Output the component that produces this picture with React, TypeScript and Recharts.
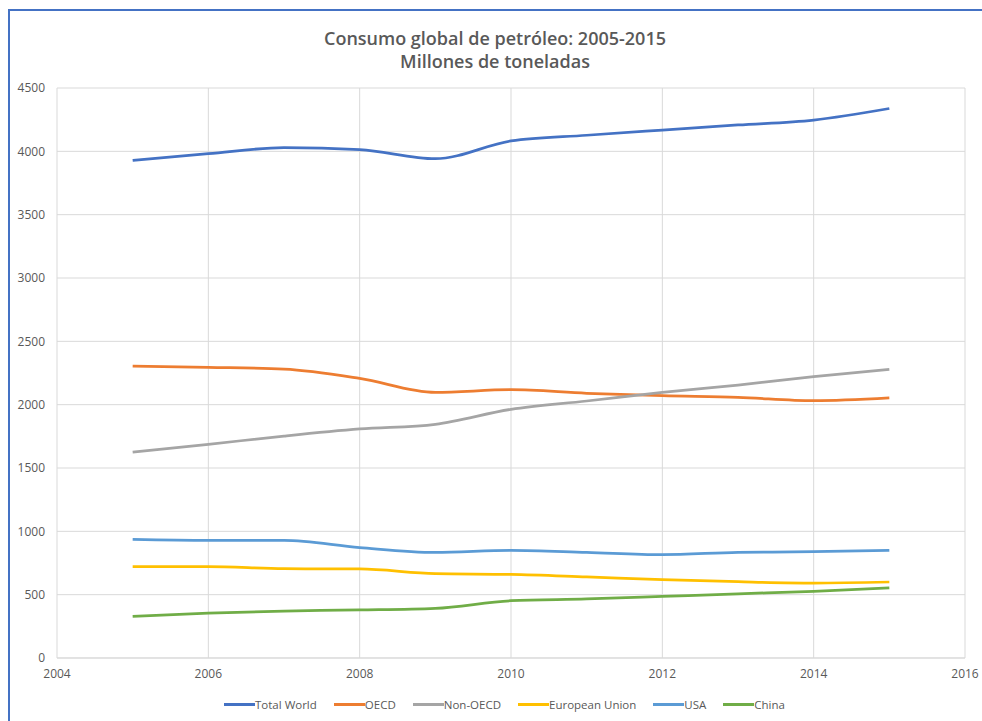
import React from 'react';
import { LineChart, Line, XAxis, YAxis, CartesianGrid } from 'recharts';

const years = [2005, 2006, 2007, 2008, 2009, 2010, 2011, 2012, 2013, 2014, 2015];
const totalWorld = [3928, 3981, 4029, 4014, 3942, 4082, 4127, 4168, 4208, 4247, 4338];
const oecd = [2305, 2295, 2281, 2208, 2097, 2118, 2090, 2071, 2058, 2031, 2053];
const nonOecd = [1626, 1687, 1752, 1808, 1845, 1963, 2029, 2097, 2155, 2222, 2279];
const europeanUnion = [721, 721, 705, 703, 666, 660, 640, 618, 602, 592, 600];
const usa = [937, 929, 929, 872, 833, 850, 834, 816, 834, 839, 850];
const china = [329, 355, 371, 379, 392, 452, 466, 486, 507, 526, 553];

const xTicks = [2004, 2006, 2008, 2010, 2012, 2014, 2016];
const yTicks = [0, 500, 1000, 1500, 2000, 2500, 3000, 3500, 4000, 4500];

const series = [
  { key: 'tw', name: 'Total World', values: totalWorld, color: '#4472C4' },
  { key: 'oecd', name: 'OECD', values: oecd, color: '#ED7D31' },
  { key: 'non', name: 'Non-OECD', values: nonOecd, color: '#A5A5A5' },
  { key: 'eu', name: 'European Union', values: europeanUnion, color: '#FFC000' },
  { key: 'usa', name: 'USA', values: usa, color: '#5B9BD5' },
  { key: 'china', name: 'China', values: china, color: '#70AD47' },
];

const data = years.map((y, i) => {
  const row: Record<string, number> = { year: y };
  series.forEach((s) => {
    row[s.key] = s.values[i];
  });
  return row;
});

const FONT = '"Open Sans", "Noto Sans", sans-serif';
const GRAY = '#595959';

export default function App() {
  return (
    <div style={{ position: 'absolute', left: 0, top: 0, width: 982, height: 721, background: '#fff', overflow: 'hidden', fontFamily: FONT }}>
      <div
        style={{
          position: 'absolute',
          left: 8,
          top: 9,
          width: 1000,
          height: 740,
          borderLeft: '2px solid #4472C4',
          borderTop: '2px solid #4472C4',
        }}
      />
      <div
        style={{
          position: 'absolute',
          left: 0,
          width: 990,
          top: 27,
          textAlign: 'center',
          color: GRAY,
          fontSize: 18,
          fontWeight: 600,
          lineHeight: '23px',
        }}
      >
        <div>Consumo global de petróleo: 2005-2015</div>
        <div>Millones de toneladas</div>
      </div>
      <div style={{ position: 'absolute', left: 0, top: 0 }}>
        <LineChart width={982} height={721} data={data} margin={{ top: 88, right: 17, bottom: 33, left: 0 }}>
          <CartesianGrid stroke="#D9D9D9" strokeWidth={1} horizontalValues={yTicks} verticalValues={xTicks} />
          <XAxis
            dataKey="year"
            type="number"
            domain={[2004, 2016]}
            ticks={xTicks}
            height={30}
            tickLine={false}
            tickSize={0}
            tickMargin={11}
            axisLine={{ stroke: '#D9D9D9' }}
            tick={{ fill: GRAY, fontSize: 12, fontFamily: FONT }}
            interval={0}
            allowDataOverflow
          />
          <YAxis
            type="number"
            domain={[0, 4500]}
            ticks={yTicks}
            width={57}
            tickLine={false}
            axisLine={false}
            tickSize={0}
            tickMargin={12}
            tick={{ fill: GRAY, fontSize: 12, fontFamily: FONT }}
            interval={0}
          />
          {series.map((s) => (
            <Line
              key={s.key}
              type="monotone"
              dataKey={s.key}
              name={s.name}
              stroke={s.color}
              strokeWidth={2.75}
              dot={false}
              activeDot={false}
              isAnimationActive={false}
            />
          ))}
        </LineChart>
      </div>
      <div
        style={{
          position: 'absolute',
          left: 224,
          top: 695,
          height: 18,
          display: 'flex',
          alignItems: 'center',
          gap: 17,
          color: GRAY,
          fontSize: 11.5,
          whiteSpace: 'nowrap',
        }}
      >
        {series.map((s) => (
          <div key={s.key} style={{ display: 'flex', alignItems: 'center' }}>
            <div style={{ width: 31, height: 3, background: s.color }} />
            <span>{s.name}</span>
          </div>
        ))}
      </div>
    </div>
  );
}
